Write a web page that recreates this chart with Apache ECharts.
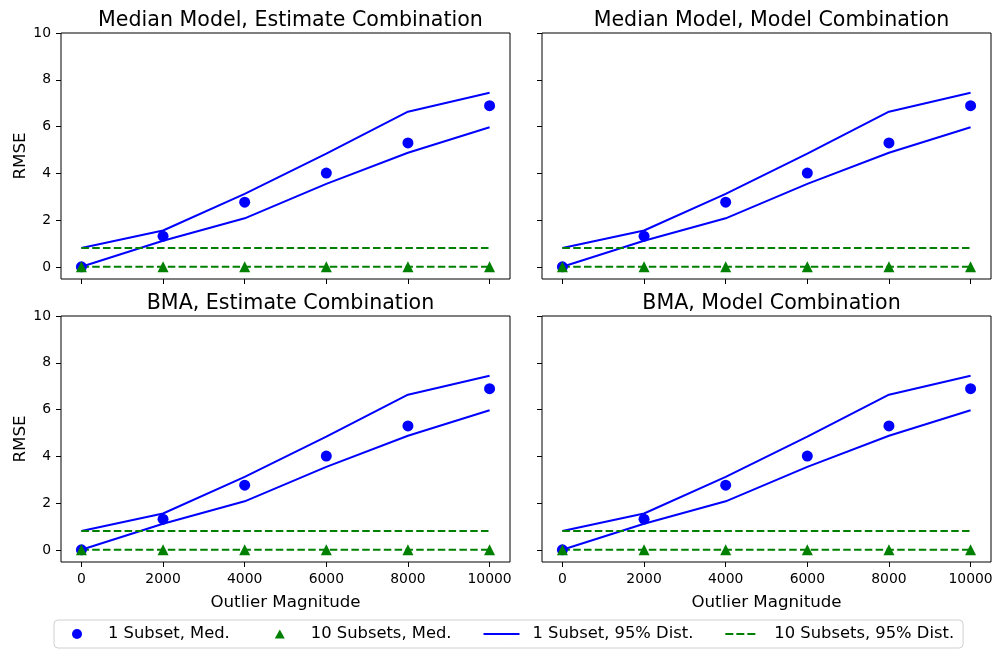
<!DOCTYPE html>
<html>
<head>
<meta charset="utf-8">
<script src="https://cdn.jsdelivr.net/npm/echarts@6/dist/echarts.min.js"></script>
<style>html,body{margin:0;padding:0;background:#fff;}#c{width:1004px;height:661px;}</style>
</head>
<body>
<div id="c"></div>
<script>
const magnitudes = [0, 2000, 4000, 6000, 8000, 10000];
const xTicks = [0, 2000, 4000, 6000, 8000, 10000];
const yTicks = [0, 2, 4, 6, 8, 10];
const titles = ["Median Model, Estimate Combination", "Median Model, Model Combination", "BMA, Estimate Combination", "BMA, Model Combination"];
const oneSubsetMed = [0.02, 1.33, 2.78, 4.02, 5.31, 6.9];
const tenSubsetMed = [0.02, 0.02, 0.02, 0.02, 0.02, 0.02];
const oneSubsetUpper = [0.82, 1.57, 3.13, 4.85, 6.64, 7.45];
const oneSubsetLower = [0.02, 1.13, 2.09, 3.56, 4.89, 5.98];
const tenSubsetUpper = [0.82, 0.82, 0.82, 0.82, 0.82, 0.82];
const tenSubsetLower = [0.02, 0.02, 0.02, 0.02, 0.02, 0.02];

const FONT = "DejaVu Sans";
const grids = [
  {left: 61, top: 33, width: 449, height: 246},
  {left: 542, top: 33, width: 449, height: 246},
  {left: 61, top: 316, width: 449, height: 246},
  {left: 542, top: 316, width: 449, height: 246}
];
const pair = arr => magnitudes.map((m, i) => [m, arr[i]]);
const xAxis = [], yAxis = [], series = [], title = [];
grids.forEach((g, k) => {
  const bottomRow = k >= 2, leftCol = k % 2 === 0;
  xAxis.push({
    type: 'value', gridIndex: k, min: -500, max: 10500,
    axisLine: {show: false, onZero: false},
    axisTick: {show: true, length: 5, lineStyle: {color: '#000'}, customValues: xTicks},
    axisLabel: {show: bottomRow, customValues: xTicks, formatter: v => String(v), color: '#000', fontFamily: FONT, fontSize: 13.9, margin: 10},
    splitLine: {show: false},
    name: bottomRow ? 'Outlier Magnitude' : '', nameLocation: 'middle', nameGap: 32,
    nameTextStyle: {color: '#000', fontFamily: FONT, fontSize: 16.67}
  });
  yAxis.push({
    type: 'value', gridIndex: k, min: -0.5, max: 10,
    axisLine: {show: false, onZero: false},
    axisTick: {show: true, length: 5, lineStyle: {color: '#000'}, customValues: yTicks},
    axisLabel: {show: leftCol, customValues: yTicks, color: '#000', fontFamily: FONT, fontSize: 13.9, margin: 10},
    splitLine: {show: false},
    name: leftCol ? 'RMSE' : '', nameLocation: 'middle', nameGap: 32,
    nameTextStyle: {color: '#000', fontFamily: FONT, fontSize: 16.67}
  });
  title.push({
    text: titles[k], left: g.left + g.width / 2, top: g.top - 28, textAlign: 'center',
    textStyle: {color: '#000', fontFamily: FONT, fontSize: 20.6, fontWeight: 'normal'}
  });
  const common = {xAxisIndex: k, yAxisIndex: k, animation: false, silent: true};
  series.push(Object.assign({type: 'line', name: '1 Subset, 95% Dist.', data: pair(oneSubsetUpper), symbol: 'none', lineStyle: {color: '#0000ff', width: 2}, itemStyle: {color: '#0000ff'}, z: 2}, common));
  series.push(Object.assign({type: 'line', name: '1 Subset, 95% Dist.', data: pair(oneSubsetLower), symbol: 'none', lineStyle: {color: '#0000ff', width: 2}, itemStyle: {color: '#0000ff'}, z: 2}, common));
  series.push(Object.assign({type: 'line', name: '10 Subsets, 95% Dist.', data: pair(tenSubsetUpper), symbol: 'none', lineStyle: {color: '#008000', width: 2, type: [7.5, 3.3]}, itemStyle: {color: '#008000'}, z: 2}, common));
  series.push(Object.assign({type: 'line', name: '10 Subsets, 95% Dist.', data: pair(tenSubsetLower), symbol: 'none', lineStyle: {color: '#008000', width: 2, type: [7.5, 3.3]}, itemStyle: {color: '#008000'}, z: 2}, common));
  series.push(Object.assign({type: 'scatter', name: '1 Subset, Med.', data: pair(oneSubsetMed), symbol: 'circle', symbolSize: 11, itemStyle: {color: '#0000ff', opacity: 1}, z: 3}, common));
  series.push(Object.assign({type: 'scatter', name: '10 Subsets, Med.', data: pair(tenSubsetMed), symbol: 'triangle', symbolSize: 11, itemStyle: {color: '#008000', opacity: 1}, z: 4}, common));
});

const BOX = 'M0,0 M44,12 ';
const noBorder = {borderWidth: 0};
const chart = echarts.init(document.getElementById('c'));
chart.setOption({
  backgroundColor: '#fff',
  animation: false,
  title: title,
  grid: grids.map(g => Object.assign({show: true, borderColor: '#000', borderWidth: 1, backgroundColor: 'transparent'}, g)),
  xAxis: xAxis,
  yAxis: yAxis,
  legend: {
    data: [
      {name: '1 Subset, Med.', icon: 'path://' + BOX + 'M13,6 A5,5 0 1,1 23,6 A5,5 0 1,1 13,6 Z', itemStyle: Object.assign({color: '#0000ff'}, noBorder)},
      {name: '10 Subsets, Med.', icon: 'path://' + BOX + 'M18,1.5 L23,10.5 L13,10.5 Z', itemStyle: Object.assign({color: '#008000'}, noBorder)},
      {name: '1 Subset, 95% Dist.', icon: 'path://' + BOX + 'M0,5 L36,5 L36,7 L0,7 Z', itemStyle: Object.assign({color: '#0000ff'}, noBorder)},
      {name: '10 Subsets, 95% Dist.', icon: 'path://' + BOX + 'M0,5 h8 v2 h-8 Z M11,5 h8 v2 h-8 Z M22,5 h8 v2 h-8 Z', itemStyle: Object.assign({color: '#008000'}, noBorder)}
    ],
    left: 54, top: 620,
    itemWidth: 44, itemHeight: 12, itemGap: 32,
    padding: [6, 9, 6, 5], borderColor: '#d0d0d0', borderWidth: 1, borderRadius: 4,
    textStyle: {color: '#000', fontFamily: FONT, fontSize: 16.35},
    selectedMode: false
  },
  series: series
});
</script>
</body>
</html>
